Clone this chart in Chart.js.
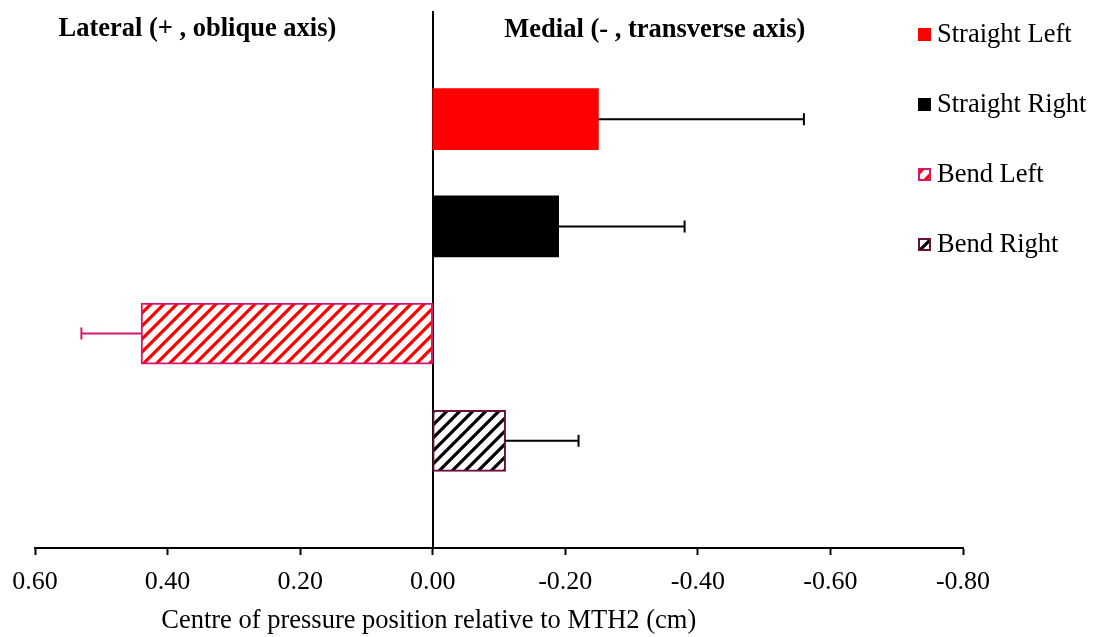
<!DOCTYPE html>
<html lang="en">
<head>
  <meta charset="UTF-8">
  <title>Centre of pressure position</title>
  <script src="https://cdn.jsdelivr.net/npm/chart.js@4/dist/chart.umd.min.js"></script>
  <style>
    body { margin: 0; background: #fff; }
  </style>
</head>
<body>
  <canvas id="copChart" width="1097" height="637"></canvas>

  <script>
    // data
    var categories = ['Straight Left', 'Straight Right', 'Bend Left', 'Bend Right'];
    var means = [-0.25, -0.19, 0.44, -0.11];
    var errors = [0.31, 0.19, 0.09, 0.11];
    var xMin = -0.80;
    var xMax = 0.60;
    var xStep = 0.20;
    var headerLeft = 'Lateral (+ , oblique axis)';
    var headerRight = 'Medial (- , transverse axis)';
    var axisTitle = 'Centre of pressure position relative to MTH2 (cm)';

    var serif = '"Liberation Serif", "Times New Roman", serif';
    Chart.defaults.font.family = serif;
    Chart.defaults.color = '#000';

    // diagonal hatch like the excel fill
    function hatch(colour) {
      var size = 13;
      var c = document.createElement('canvas');
      c.width = size; c.height = size;
      var g = c.getContext('2d');
      g.fillStyle = '#fff';
      g.fillRect(0, 0, size, size);
      g.strokeStyle = colour;
      g.lineWidth = 3.2;
      g.beginPath();
      g.moveTo(-2, size + 2); g.lineTo(size + 2, -2);
      g.moveTo(-2, 2); g.lineTo(2, -2);
      g.moveTo(size - 2, size + 2); g.lineTo(size + 2, size - 2);
      g.stroke();
      return g.createPattern(c, 'repeat');
    }

    var fills = ['#ff0000', '#000000', hatch('#ff0000'), hatch('#000000')];
    var borders = ['#ff0000', '#000000', '#d4186c', '#6e0c3c'];
    var borderWidths = [0, 0, 2, 2];
    var errColours = ['#000000', '#000000', '#d4186c', '#000000'];

    // one empty slot above and below the bars
    var yLabels = [''].concat(categories, ['']);

    var datasets = categories.map(function (name, i) {
      var row = yLabels.map(function () { return null; });
      row[i + 1] = means[i];
      return {
        label: name,
        data: row,
        backgroundColor: fills[i],
        borderColor: borders[i],
        borderWidth: borderWidths[i],
        borderSkipped: false,
        barThickness: 61
      };
    });

    var errorBars = {
      id: 'errorBars',
      afterDatasetsDraw: function (chart) {
        var ctx = chart.ctx;
        var xs = chart.scales.x;
        ctx.save();
        ctx.lineWidth = 2;
        categories.forEach(function (name, i) {
          var bar = chart.getDatasetMeta(i).data[i + 1];
          if (!bar) return;
          var sign = means[i] < 0 ? -1 : 1;
          var x0 = xs.getPixelForValue(means[i]);
          var x1 = xs.getPixelForValue(means[i] + sign * errors[i]);
          ctx.strokeStyle = errColours[i];
          ctx.beginPath();
          ctx.moveTo(x0, bar.y); ctx.lineTo(x1, bar.y);
          ctx.moveTo(x1, bar.y - 6); ctx.lineTo(x1, bar.y + 6);
          ctx.stroke();
        });
        ctx.restore();
      }
    };

    var annotations = {
      id: 'annotations',
      afterDraw: function (chart) {
        var ctx = chart.ctx;
        var xs = chart.scales.x;
        var area = chart.chartArea;
        ctx.save();
        ctx.fillStyle = '#000';
        ctx.textBaseline = 'middle';

        // headers
        ctx.font = 'bold 26.5px ' + serif;
        ctx.textAlign = 'center';
        ctx.fillText(headerLeft, xs.getPixelForValue(0.355), area.top + 17);
        ctx.fillText(headerRight, xs.getPixelForValue(-0.335), area.top + 18);

        // axis title
        ctx.font = '26.5px ' + serif;
        ctx.fillText(axisTitle, xs.getPixelForValue(0) - 4, 621);

        // legend
        ctx.font = '26.5px ' + serif;
        ctx.textAlign = 'left';
        categories.forEach(function (name, i) {
          var y = area.top + 22 + i * 70;
          var bx = area.right - 45;
          ctx.fillStyle = fills[i];
          ctx.fillRect(bx, y - 6, 13, 13);
          if (borderWidths[i]) {
            ctx.strokeStyle = borders[i];
            ctx.lineWidth = 2;
            ctx.strokeRect(bx + 1, y - 5, 11, 11);
          }
          ctx.fillStyle = '#000';
          ctx.fillText(name, bx + 19, y + 1);
        });
        ctx.restore();
      }
    };

    new Chart(document.getElementById('copChart'), {
      type: 'bar',
      data: { labels: yLabels, datasets: datasets },
      plugins: [errorBars, annotations],
      options: {
        indexAxis: 'y',
        responsive: false,
        animation: false,
        layout: { padding: { top: 12, left: 35, right: 134, bottom: 0 } },
        plugins: {
          legend: { display: false },
          tooltip: { enabled: false }
        },
        scales: {
          x: {
            type: 'linear',
            reverse: true,
            min: xMin,
            max: xMax,
            stacked: true,
            afterFit: function (scale) { scale.height = 89; },
            border: { display: true, color: '#000', width: 2 },
            grid: {
              drawOnChartArea: false,
              drawTicks: true,
              tickLength: 7,
              tickWidth: 2,
              tickColor: '#000'
            },
            ticks: {
              stepSize: xStep,
              padding: 12,
              color: '#000',
              font: { size: 26, family: serif },
              callback: function (v) {
                if (Math.abs(v) < 1e-9) return '0.00';
                return Number(v).toFixed(2);
              }
            }
          },
          y: {
            type: 'category',
            stacked: true,
            offset: false,
            position: { x: 0 },
            border: { display: true, color: '#000', width: 2 },
            grid: { drawOnChartArea: false, drawTicks: false },
            ticks: { display: false }
          }
        }
      }
    });
  </script>
</body>
</html>
